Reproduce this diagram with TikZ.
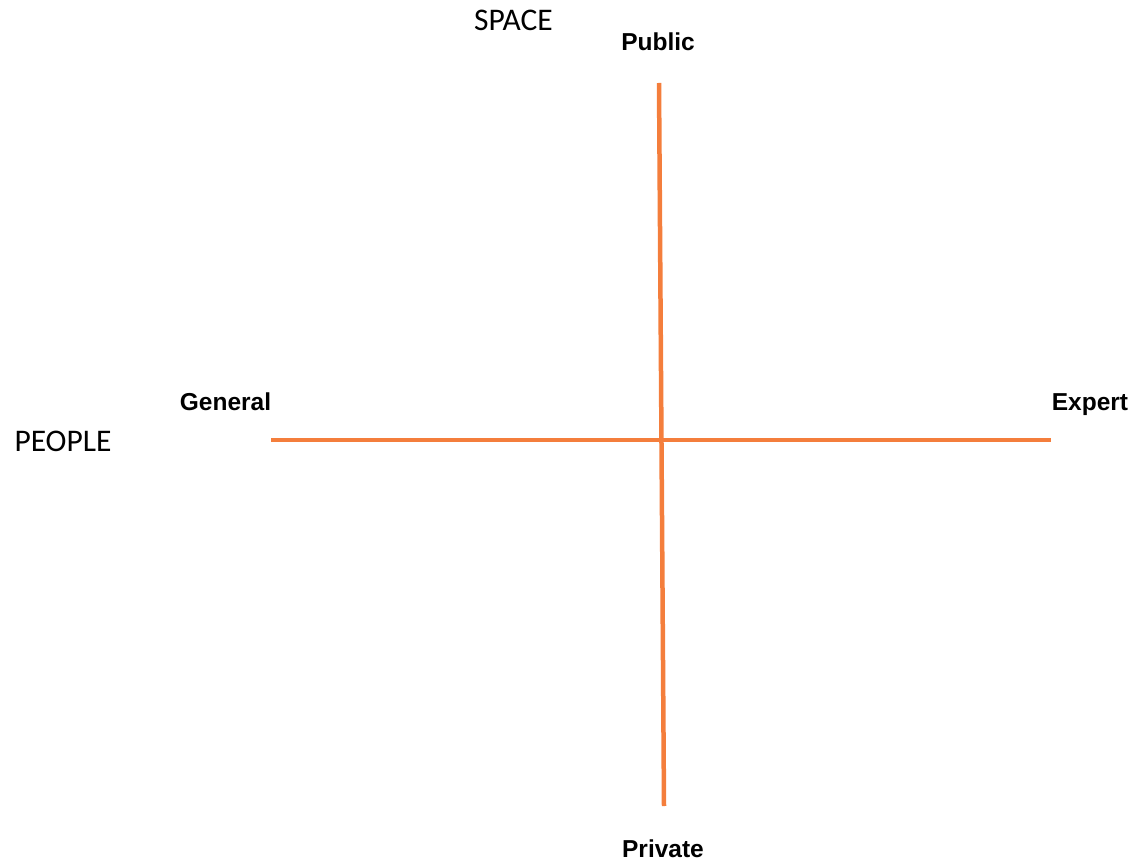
\documentclass[tikz,border=0pt]{standalone}
\usepackage{fontspec}
\setmainfont{Liberation Sans}
\newfontfamily\calib{Carlito}
\definecolor{axisorange}{HTML}{F47E3C}
\begin{document}
\begin{tikzpicture}[x=1pt,y=-1pt,
  axis/.style={draw=axisorange,line width=4.5pt},
  lab/.style={font=\fontsize{24.5}{28}\selectfont\bfseries,anchor=base,inner sep=0pt},
  cat/.style={font=\calib\fontsize{31.5}{34}\selectfont,anchor=base,inner sep=0pt}]
\useasboundingbox (0,0) rectangle (1140,866);
\coordinate (vtop) at (659,83);
\coordinate (vbot) at (664,806);
\coordinate (hleft) at (271,440);
\coordinate (hright) at (1051,440);
\draw[axis] (vtop) -- (vbot);
\draw[axis] (hleft) -- (hright);
\node[cat] (space) at (513.5,31) {SPACE};
\node[cat] (people) at (63,451) {PEOPLE};
\node[lab] (public) at (658,50.5) {Public};
\node[lab] (private) at (663,857) {Private};
\node[lab] (general) at (225.5,410.5) {General};
\node[lab] (expert) at (1090,410.5) {Expert};
\end{tikzpicture}
\end{document}
